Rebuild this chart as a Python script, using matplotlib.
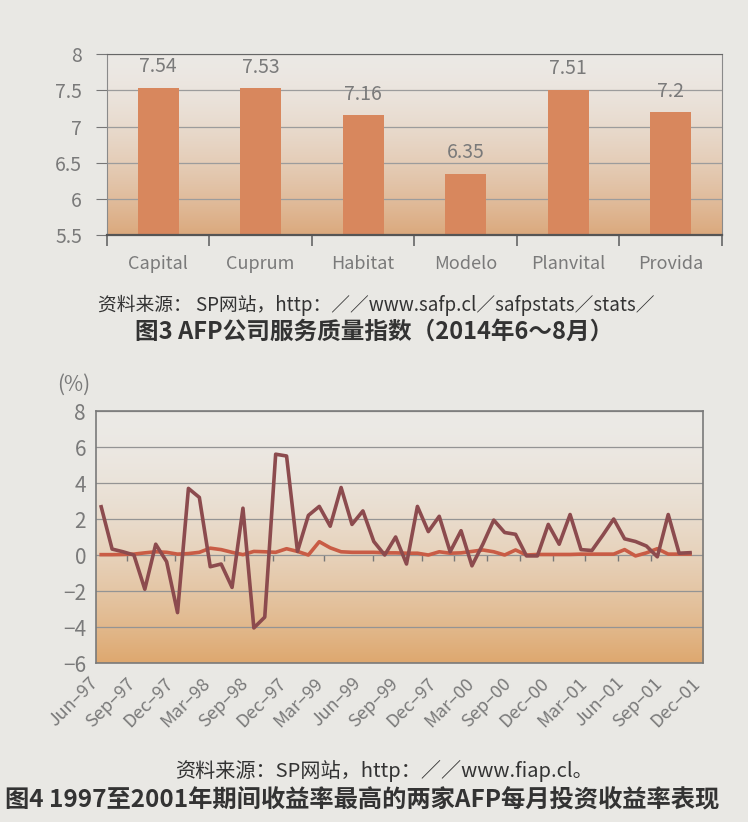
import matplotlib.pyplot as plt
import numpy as np
from matplotlib.colors import to_rgb

plt.rcParams['font.family'] = ['Noto Sans CJK SC', 'DejaVu Sans']

# figure 3: service quality index
companies = ['Capital', 'Cuprum', 'Habitat', 'Modelo', 'Planvital', 'Provida']
quality_index = [7.54, 7.53, 7.16, 6.35, 7.51, 7.2]
quality_labels = ['7.54', '7.53', '7.16', '6.35', '7.51', '7.2']
quality_yticks = [5.5, 6, 6.5, 7, 7.5, 8]

# figure 4: monthly returns Jun-97 .. Dec-01
month_labels = ['Jun–97', 'Sep–97', 'Dec–97', 'Mar–98', 'Sep–98', 'Dec–97',
                'Mar–99', 'Jun–99', 'Sep–99', 'Dec–97', 'Mar–00', 'Sep–00',
                'Dec–00', 'Mar–01', 'Jun–01', 'Sep–01', 'Dec–01']
afp_a = [2.68, 0.33, 0.18, 0.0, -1.9, 0.6, -0.37, -3.2, 3.7, 3.2,
         -0.65, -0.5, -1.8, 2.6, -4.05, -3.45, 5.6, 5.5, 0.2, 2.2,
         2.7, 1.6, 3.75, 1.7, 2.45, 0.75, 0.0, 1.0, -0.5, 2.7,
         1.3, 2.15, 0.18, 1.35, -0.6, 0.6, 1.94, 1.25, 1.15, -0.05,
         -0.05, 1.7, 0.6, 2.25, 0.3, 0.25, 1.1, 2.0, 0.9, 0.75,
         0.5, -0.1, 2.25, 0.1, 0.13]
afp_b = [0.02, 0.02, 0.03, 0.05, 0.12, 0.18, 0.15, 0.05, 0.08, 0.15,
         0.38, 0.3, 0.15, 0.02, 0.2, 0.18, 0.15, 0.35, 0.2, 0.0,
         0.74, 0.4, 0.18, 0.15, 0.15, 0.15, 0.12, 0.12, 0.1, 0.1,
         0.0, 0.18, 0.1, 0.12, 0.2, 0.28, 0.18, 0.0, 0.28, 0.0,
         0.03, 0.03, 0.03, 0.03, 0.05, 0.05, 0.05, 0.05, 0.3, -0.05,
         0.12, 0.35, 0.05, 0.05, 0.05]
zero_ticks = [2.35, 6.8, 11.3, 15.8, 20.4, 24.9, 29.4, 32.4, 35.4,
              38.4, 41.4, 44.4, 47.4, 50.4]

PAGE = '#e9e8e4'
GREY = '#7a7a7a'
TEXT = '#333333'


def paint_background(ax, top, bottom, power):
    t = np.linspace(0, 1, 256) ** power
    c0, c1 = np.array(to_rgb(top)), np.array(to_rgb(bottom))
    grad = c0 + (c1 - c0) * t[:, None]
    ax.imshow(grad[:, None, :], extent=(0, 1, 0, 1), transform=ax.transAxes,
              aspect='auto', zorder=0)


fig = plt.figure(figsize=(7.48, 8.22), dpi=100, facecolor=PAGE)

# ---- top chart ----
ax1 = fig.add_axes([0.143, 0.714, 0.822, 0.220])
paint_background(ax1, '#ece9e5', '#dba97d', 1.6)
x = np.arange(len(companies))
ax1.bar(x, quality_index, width=0.4, color='#d8875d', zorder=2)
for xi, v, lab in zip(x, quality_index, quality_labels):
    ax1.annotate(lab, (xi, v), xytext=(0, 15), textcoords='offset points',
                 ha='center', va='center', fontsize=14, color=GREY)
ax1.set_xlim(-0.5, len(companies) - 0.5)
ax1.set_ylim(5.5, 8)
ax1.set_yticks(quality_yticks)
ax1.set_yticklabels([f'{v:g}' for v in quality_yticks])
ax1.set_xticks(np.arange(len(companies) + 1) - 0.5)
ax1.set_xticklabels([])
ax1.set_xticks(x, minor=True)
ax1.set_xticklabels(companies, minor=True)
ax1.tick_params(axis='x', which='major', length=8, color='#666', width=1.2)
ax1.tick_params(axis='x', which='minor', length=0, pad=14, labelsize=13,
                labelcolor=GREY)
ax1.tick_params(axis='y', length=8, color='#777', labelsize=14,
                labelcolor=GREY, pad=10)
ax1.set_axisbelow(True)
ax1.grid(axis='y', color='#9c9c9c', linewidth=0.9)
for side in ['left', 'right']:
    ax1.spines[side].set_color('#8a8a8a')
ax1.spines['top'].set_color('#666')
ax1.spines['bottom'].set_color('#555')
ax1.spines['bottom'].set_linewidth(1.6)

fig.text(98 / 748, 1 - 305 / 822,
         '资料来源： SP网站，http：／／www.safp.cl／safpstats／stats／',
         fontsize=13.5, color=TEXT, va='center', ha='left')
fig.text(374 / 748, 1 - 332 / 822, '图3 AFP公司服务质量指数（2014年6～8月）',
         fontsize=17, color=TEXT, fontweight='bold', va='center', ha='center')

# ---- bottom chart ----
ax2 = fig.add_axes([0.128, 0.1934, 0.812, 0.3066])
paint_background(ax2, '#eceae6', '#dea86f', 1.8)
months = np.arange(len(afp_a))
ax2.plot(months, afp_b, color='#c95c45', linewidth=2.6, zorder=3)
ax2.plot(months, afp_a, color='#8c4b4e', linewidth=2.6, zorder=4)
ax2.set_xlim(-0.5, 54.3)
ax2.set_ylim(-6, 8)
ax2.set_yticks(np.arange(-6, 9, 2))
ax2.set_yticklabels([f'{v}'.replace('-', '−') for v in range(-6, 9, 2)])
label_pos = np.arange(len(month_labels)) * 3.45
ax2.set_xticks(label_pos)
ax2.set_xticklabels(month_labels, rotation=45, ha='right', va='top')
ax2.tick_params(axis='x', length=0, pad=8, labelsize=13, labelcolor=GREY)
ax2.tick_params(axis='y', length=0, pad=7, labelsize=15, labelcolor=GREY)
ax2.set_axisbelow(True)
ax2.grid(axis='y', color='#949494', linewidth=0.9)
for sp in ax2.spines.values():
    sp.set_color('#7a7a7a')
    sp.set_linewidth(1.2)

zero_axis = ax2.secondary_xaxis(6 / 14)
zero_axis.set_xticks(zero_ticks)
zero_axis.set_xticklabels([])
zero_axis.spines['bottom'].set_visible(False)
zero_axis.spines['top'].set_visible(False)
zero_axis.tick_params(axis='x', direction='out', length=4, color='#777',
                      width=1)
zero_axis.xaxis.set_ticks_position('bottom')

fig.text(74 / 748, 1 - 385 / 822, '(%)', fontsize=15, color=GREY,
         ha='center', va='center')

fig.text(175 / 748, 1 - 771 / 822, '资料来源：SP网站，http：／／www.fiap.cl。',
         fontsize=14.5, color=TEXT, va='center', ha='left')
fig.text(5 / 748, 1 - 800 / 822,
         '图4 1997至2001年期间收益率最高的两家AFP每月投资收益率表现',
         fontsize=17.5, color=TEXT, fontweight='bold', va='center', ha='left')

fig.savefig('out.png', dpi=100, facecolor=PAGE)
